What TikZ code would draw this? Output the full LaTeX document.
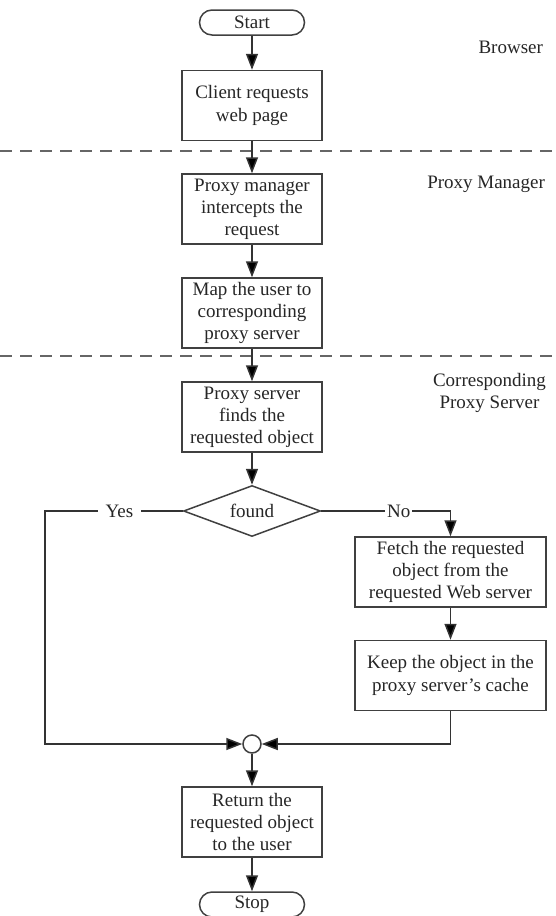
\documentclass[tikz,border=0pt]{standalone}
\usepackage{fontspec}
\setmainfont{Liberation Serif}
\usetikzlibrary{arrows.meta,shapes.geometric}
\begin{document}
\begin{tikzpicture}[x=0.5pt,y=-0.5pt,
    font=\fontsize{9.5}{11.1}\selectfont,
    every node/.style={text=black!85},
    box/.style={draw=black!75,line width=0.75pt,fill=white,align=center,
      minimum width=70pt,minimum height=35pt,inner sep=1pt},
    term/.style={draw=black!75,line width=0.75pt,rounded corners=6.25pt,
      minimum width=52.5pt,minimum height=12.5pt,inner sep=0pt},
    decide/.style={draw=black!75,line width=0.75pt,diamond,aspect=2.7,
      minimum width=68.5pt,minimum height=25.5pt,inner sep=0pt},
    arr/.style={draw=black!80,line width=0.75pt,-{Triangle[length=8pt,width=6pt,fill=black]}},
    lbl/.style={fill=white,inner sep=1pt},
    lane/.style={anchor=east,align=center}]
  \useasboundingbox (0,0) rectangle (556,916);
  \foreach \y in {151,356} {
    \draw[black!60,line width=1pt,dash pattern=on 6pt off 4pt] (0,\y) -- (556,\y);
  }
  \node[lane] (browser) at (550,47) {Browser};
  \node[lane] (pmlane) at (552,184) {Proxy Manager};
  \node[lane] (pslane) at (553,393) {Corresponding\\Proxy Server};

  \node[term] (start) at (252,22.5) {Start};
  \node[box] (client) at (252,105.5) {Client requests\\web page};
  \node[box] (proxymgr) at (252,209) {Proxy manager\\intercepts the\\request};
  \node[box] (map) at (252,313) {Map the user to\\corresponding\\proxy server};
  \node[box] (proxysrv) at (252,417) {Proxy server\\finds the\\requested object};
  \node[decide] (found) at (252,511) {found};
  \node[box,minimum width=95.5pt] (fetch) at (450.5,572) {Fetch the requested\\object from the\\requested Web server};
  \node[box,minimum width=95.5pt] (keep) at (450.5,675.5) {Keep the object in the\\proxy server's cache};
  \node[draw=black!75,line width=0.75pt,circle,minimum size=9pt,inner sep=0pt] (join) at (252,744) {};
  \node[box] (return) at (252,822) {Return the\\requested object\\to the user};
  \node[term] (stop) at (252,904.5) {Stop};
  \coordinate (yesturn) at (45,511);

  \foreach \p/\q in {start/client,client/proxymgr,proxymgr/map,map/proxysrv,
      proxysrv/found,fetch/keep,join/return,return/stop} {
    \draw[arr] (\p) -- (\q);
  }
  \draw[arr] (found.west) -- node[lbl,pos=0.46,inner xsep=4pt] {Yes} (yesturn) |- (join);
  \draw[arr] (found.east) -- node[lbl,pos=0.6] {No} (found.east -| fetch.north) -- (fetch.north);
  \draw[arr] (keep.south) |- (join);
\end{tikzpicture}
\end{document}
